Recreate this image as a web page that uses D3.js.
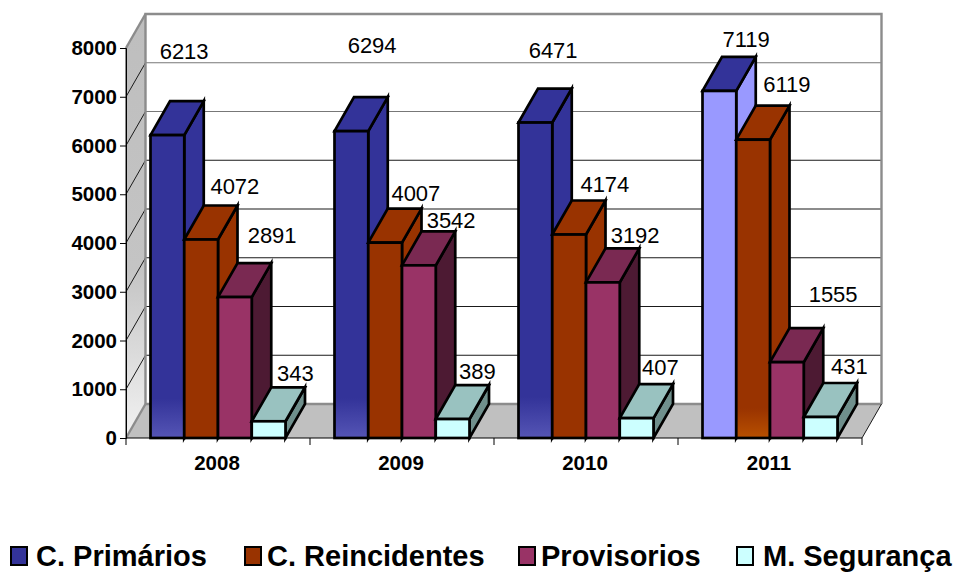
<!DOCTYPE html>
<html><head><meta charset="utf-8">
<style>html,body{margin:0;padding:0;background:#fff}svg{display:block}
text{font-family:"Liberation Sans",Arial,sans-serif;fill:#000}</style>
<script src="https://cdn.jsdelivr.net/npm/d3@7/dist/d3.min.js"></script>
</head><body><svg id="c" width="953" height="572"></svg>
<script>
const years = ["2008","2009","2010","2011"];
const seriesNames = ["C. Primários","C. Reincidentes","Provisorios","M. Segurança"];
const primarios = [6213,6294,6471,7119];
const reincidentes = [4072,4007,4174,6119];
const provisorios = [2891,3542,3192,1555];
const seguranca = [343,389,407,431];
const yTicks = [0,1000,2000,3000,4000,5000,6000,7000,8000];

const allSeries = [primarios,reincidentes,provisorios,seguranca];
const frontCol = ["#333399","#993300","#993366","#CCFFFF"];
const topCol   = ["#333399","#993300","#7A2952","#99C2C0"];
const sideCol  = ["#333399","#993300","#4D1A33","#6F8F8C"];
// hand-placed data labels in the source: [dx,dy] from the default anchor
const labelNudge = [
 [[7,-50],[11,-52],[8,-37.5],[17,-17]],
 [[24,-18.5],[21,-15],[26,-15.5],[24,-21]],
 [[27.5,-27],[22.5,-11],[22.5,-12.4],[36.5,-34]],
 [[17,-14],[15,-13],[14,-17],[19,-16]]
];

const L=126,R=862,B=438,T=48,DX=19.5,DY=-34;
const svg=d3.select("#c");
const defs=svg.append("defs");
const y=d3.scaleLinear().domain([0,8000]).range([B,T]);
const x=d3.scaleBand().domain(years).range([L,R]);
const barW=33.75, inset=24.5;
const pts=a=>a.map(p=>p.join(",")).join(" ");

function grad(id,stops){
  const g=defs.append("linearGradient").attr("id",id).attr("x1",0).attr("y1",0).attr("x2",0).attr("y2",1);
  stops.forEach(s=>g.append("stop").attr("offset",s[0]).attr("stop-color",s[1]));
}
grad("wallL",[[0,"#BEBEBE"],[0.6,"#C4C4C4"],[1,"#F2F2F2"]]);

// walls & floor
const gW=svg.append("g");
gW.append("polygon").attr("points",pts([[L,T],[L+DX,T+DY],[L+DX,B+DY],[L,B]])).attr("fill","url(#wallL)");
gW.append("polygon").attr("points",pts([[L,B],[L+DX,B+DY],[R+DX,B+DY],[R,B]])).attr("fill","#C0C0C0");
// gridlines with wall diagonals
yTicks.filter(t=>t>0&&t<8000).forEach(t=>{
  const col=(t>=6000)?"#777777":"#1A1A1A";
  gW.append("line").attr("x1",L+DX).attr("x2",R+DX).attr("y1",y(t)+DY).attr("y2",y(t)+DY).attr("stroke",col).attr("stroke-width",1.2);
  gW.append("line").attr("x1",L).attr("x2",L+DX).attr("y1",y(t)).attr("y2",y(t)+DY).attr("stroke","#1A1A1A").attr("stroke-width",1);
});
// wall frame
gW.append("polyline").attr("points",pts([[L+DX,B+DY],[L+DX,T+DY],[R+DX,T+DY],[R+DX,B+DY]])).attr("fill","none").attr("stroke","#8C8C8C").attr("stroke-width",2.4);
gW.append("line").attr("x1",L+DX).attr("x2",R+DX).attr("y1",B+DY).attr("y2",B+DY).attr("stroke","#8C8C8C").attr("stroke-width",2.4);
gW.append("line").attr("x1",L).attr("x2",L+DX).attr("y1",T).attr("y2",T+DY).attr("stroke","#8C8C8C").attr("stroke-width",2.4);
gW.append("line").attr("x1",L).attr("x2",L).attr("y1",B).attr("y2",T).attr("stroke","#8C8C8C").attr("stroke-width",2);
gW.append("line").attr("x1",L).attr("x2",L+DX).attr("y1",B).attr("y2",B+DY).attr("stroke","#8C8C8C").attr("stroke-width",2.4);
gW.append("line").attr("x1",R).attr("x2",R+DX).attr("y1",B).attr("y2",B+DY).attr("stroke","#1A1A1A").attr("stroke-width",1);

// axes
const yAxis=svg.append("g").attr("transform",`translate(${L},0)`).call(d3.axisLeft(y).tickValues(yTicks).tickSize(6).tickPadding(3).tickFormat(d3.format("d")));
yAxis.select(".domain").attr("stroke","#000").attr("stroke-width",1);
yAxis.selectAll("line").attr("stroke","#000");
yAxis.selectAll("text").style("font-family",'"Liberation Sans",Arial,sans-serif').style("font-size","20.5px").style("font-weight","bold").attr("dy","0.32em");
const xAxis=svg.append("g").attr("transform",`translate(0,${B})`).call(d3.axisBottom(x).tickValues([]).tickSize(0));
xAxis.select(".domain").attr("stroke","#000").attr("stroke-width",1).attr("d",`M${L},0H${R}`);
[...years.map(c=>x(c)),R].forEach(v=>svg.append("line").attr("x1",v).attr("x2",v).attr("y1",B).attr("y2",B+7).attr("stroke","#000"));
years.forEach(c=>svg.append("text").attr("x",x(c)+x.bandwidth()/2-1).attr("y",470).attr("text-anchor","middle").style("font-size","20.5px").style("font-weight","bold").text(c));

// bars
grad("blueFade",[[0,"#333399"],[0.87,"#333399"],[1,"#5555B5"]]);
grad("brownFade",[[0,"#993300"],[0.9,"#993300"],[1,"#B85000"]]);
const gB=svg.append("g").attr("stroke","#000").attr("stroke-width",2.7).attr("stroke-linejoin","miter");
years.forEach((yr,i)=>{
  allSeries.forEach((vals,j)=>{
    const v=vals[i], x0=x(yr)+inset+j*barW, x1=x0+barW, yt=y(v);
    const isLight=(i===3&&j===0);
    const front=isLight?"#9999FF":frontCol[j];
    const side=isLight?"#9999FF":sideCol[j];
    gB.append("polygon").attr("points",pts([[x1,yt],[x1+DX,yt+DY],[x1+DX,B+DY],[x1,B]])).attr("fill",side);
    gB.append("polygon").attr("points",pts([[x0,yt],[x0+DX,yt+DY],[x1+DX,yt+DY],[x1,yt]])).attr("fill",topCol[j]);
    let fill=front;
    if(j===0&&!isLight) fill="url(#blueFade)";
    if(j===1&&i===3) fill="url(#brownFade)";
    gB.append("rect").attr("x",x0).attr("y",yt).attr("width",barW).attr("height",B-yt).attr("fill",fill);
  });
});
// labels
years.forEach((yr,i)=>{
  allSeries.forEach((vals,j)=>{
    const v=vals[i], x0=x(yr)+inset+j*barW, n=labelNudge[j][i];
    svg.append("text").attr("x",x0+barW/2+DX/2+n[0]).attr("y",y(v)+DY-0.5+n[1]).attr("dy","0.36em")
      .attr("text-anchor","middle").style("font-size","22px").text(v);
  });
});
// legend
const legX=[10,244,518,736], legT=[36,267,541,763];
seriesNames.forEach((s,j)=>{
  svg.append("rect").attr("x",legX[j]+1).attr("y",547).attr("width",16).attr("height",18).attr("fill",frontCol[j]).attr("stroke","#000").attr("stroke-width",2);
  svg.append("text").attr("x",legT[j]).attr("y",565.5).style("font-size","29px").style("font-weight","bold").text(s);
});
</script></body></html>
